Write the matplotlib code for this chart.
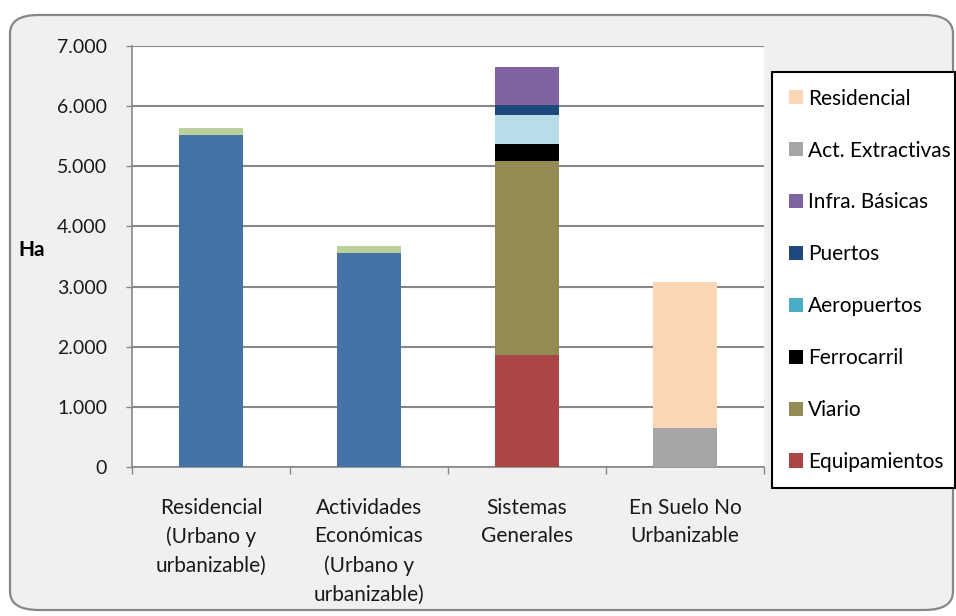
import matplotlib.pyplot as plt
from matplotlib.patches import FancyBboxPatch, Patch
import numpy as np

plt.rcParams['font.family'] = ['Lato', 'DejaVu Sans']

categories = ["Residencial\n(Urbano y\nurbanizable)",
              "Actividades\nEconómicas\n(Urbano y\nurbanizable)",
              "Sistemas\nGenerales",
              "En Suelo No\nUrbanizable"]

## stacked series, bottom to top
urbano = [5520, 3553, 0, 0]
urbanizable = [117, 117, 0, 0]
equipamientos = [0, 0, 1862, 0]
viario = [0, 0, 3226, 0]
ferrocarril = [0, 0, 283, 0]
aeropuertos = [0, 0, 482, 0]
puertos = [0, 0, 166, 0]
infra_basicas = [0, 0, 632, 0]
act_extractivas = [0, 0, 0, 648]
residencial = [0, 0, 0, 2428]

y_ticks = [0, 1000, 2000, 3000, 4000, 5000, 6000, 7000]
y_tick_labels = ["0", "1.000", "2.000", "3.000", "4.000", "5.000", "6.000", "7.000"]

FS = 15
FS_Y = 14


def main():
    fig = plt.figure(figsize=(9.56, 6.16), dpi=100)
    fig.patch.set_facecolor("white")

    # rounded grey chart frame
    frame = FancyBboxPatch((10 / 956, 1 - 610 / 616), 943 / 956, 595 / 616,
                           boxstyle="round,pad=0,rounding_size=0.03",
                           transform=fig.transFigure, facecolor="#F0F0F2",
                           edgecolor="#878787", linewidth=1.6, zorder=-5)
    fig.patches.append(frame)

    ax = fig.add_axes([132 / 956, 1 - 467 / 616, 632 / 956, 421 / 616])
    ax.set_facecolor("white")

    x = np.arange(len(categories))
    w = 0.4
    series = [
        (urbano, "#4572A7"),
        (urbanizable, "#BBD09A"),
        (equipamientos, "#AA4643"),
        (viario, "#948A54"),
        (ferrocarril, "#000000"),
        (aeropuertos, "#B7DEE8"),
        (puertos, "#1F497D"),
        (infra_basicas, "#8064A2"),
        (act_extractivas, "#A5A5A5"),
        (residencial, "#FCD5B5"),
    ]
    bottom = np.zeros(len(categories))
    for vals, col in series:
        vals = np.array(vals, dtype=float)
        ax.bar(x, vals, w, bottom=bottom, color=col, zorder=3)
        bottom += vals

    ax.set_xlim(-0.5, len(categories) - 0.5)
    ax.set_ylim(0, 7000)
    ax.set_yticks(y_ticks)
    ax.set_yticklabels(y_tick_labels, fontsize=FS_Y, color="#1a1a1a")
    ax.yaxis.grid(True, color="#888888", linewidth=1.5, zorder=0)
    ax.tick_params(axis="y", length=4, width=1, color="#888888", pad=14)

    ax.set_xticks(x)
    ax.set_xticklabels(categories, fontsize=FS, color="#1a1a1a",
                       linespacing=1.55, va="top")
    ax.set_xticks(np.arange(len(categories) + 1) - 0.5, minor=True)
    ax.tick_params(axis="x", which="major", length=0, pad=22)
    ax.tick_params(axis="x", which="minor", length=5, width=1, color="#888888")

    for s in ["top", "right"]:
        ax.spines[s].set_visible(False)
    for s in ["left", "bottom"]:
        ax.spines[s].set_color("#888888")
        ax.spines[s].set_linewidth(1.2)

    fig.text(18 / 956, 1 - 250 / 616, "Ha", fontsize=FS, fontweight="bold",
             va="center", ha="left")

    legend_items = [
        ("Residencial", "#FCD5B5"),
        ("Act. Extractivas", "#A5A5A5"),
        ("Infra. Básicas", "#8064A2"),
        ("Puertos", "#1F497D"),
        ("Aeropuertos", "#4BACC6"),
        ("Ferrocarril", "#000000"),
        ("Viario", "#948A54"),
        ("Equipamientos", "#AA4643"),
    ]
    handles = [Patch(facecolor=c, label=l) for l, c in legend_items]
    leg = fig.legend(handles=handles, loc="upper left", mode="expand",
                     bbox_to_anchor=(772 / 956, 1 - 483 / 616, 183 / 956, 411 / 616),
                     fontsize=FS, frameon=True, fancybox=False,
                     handlelength=0.67, handleheight=0.67, handletextpad=0.25,
                     labelspacing=1.53, borderpad=0.8, borderaxespad=0)
    leg.get_frame().set_edgecolor("black")
    leg.get_frame().set_linewidth(1.5)
    leg.get_frame().set_facecolor("white")
    leg.get_frame().set_alpha(1)

    fig.savefig("out.png", dpi=100, facecolor=fig.get_facecolor())


if __name__ == "__main__":
    main()
